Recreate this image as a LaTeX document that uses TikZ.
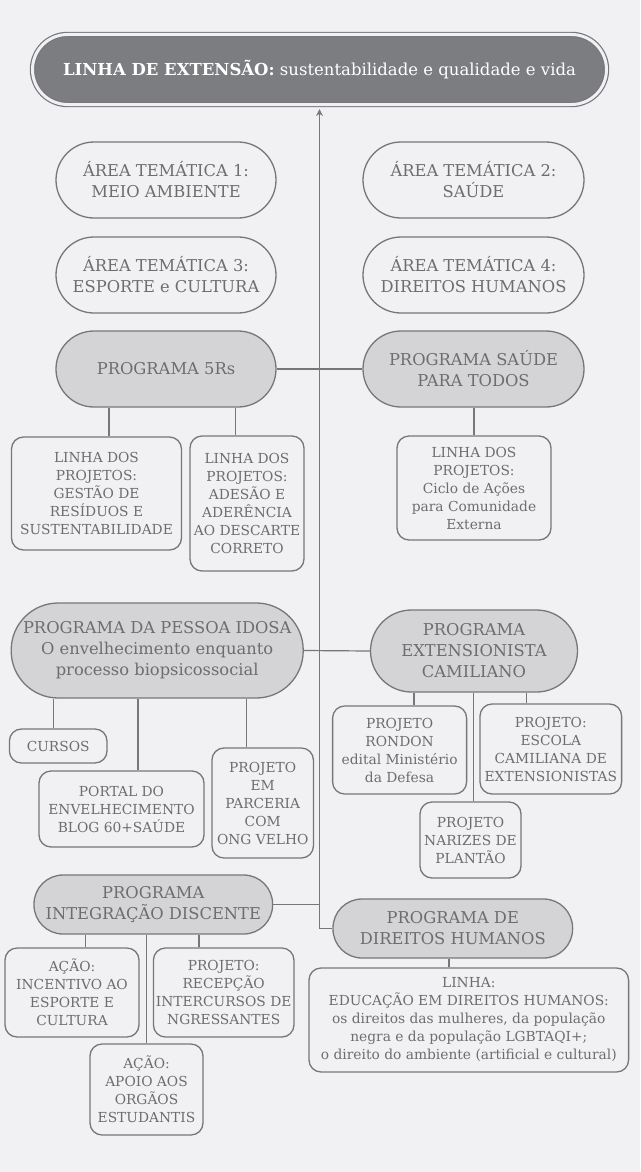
\documentclass[tikz,border=0pt]{standalone}
\usepackage{fontspec}
\setmainfont{DejaVu Serif}
\usetikzlibrary{arrows.meta}
\definecolor{bgcol}{HTML}{F1F1F3}
\definecolor{linecol}{HTML}{77777B}
\definecolor{darkfill}{HTML}{7C7D81}
\definecolor{progfill}{HTML}{D4D4D6}
\definecolor{txtcol}{HTML}{6D6D70}

\begin{document}
\begin{tikzpicture}[x=1pt,y=-1pt,
    box/.style={draw=linecol, line width=1.3pt, text=txtcol, align=center, inner sep=0pt},
    area/.style={box, rounded corners=38pt, minimum width=220pt, minimum height=76pt, font=\fontsize{16.3}{21}\selectfont},
    prog/.style={area, fill=progfill},
    leaf/.style={box, rounded corners=12pt, font=\fontsize{13.8}{18}\selectfont},
    conn/.style={draw=linecol, line width=1.2pt},
    headline/.style={draw=linecol, double=bgcol, double distance=3pt, line width=1.2pt, fill=darkfill, text=white,
      rounded corners=35pt, minimum width=574pt, minimum height=70pt, inner sep=0pt, font=\fontsize{16.5}{20}\selectfont}]
    \fill[bgcol] (0,0) rectangle (640,1172);

    \node[headline] (title) at (319.5,69.5) {\textbf{LINHA DE EXTENSÃO:} sustentabilidade e qualidade e vida};

    % areas
    \node[area] (a1) at (166,180) {ÁREA TEMÁTICA 1:\\MEIO AMBIENTE};
    \node[area, minimum width=221pt] (a2) at (473.5,180) {ÁREA TEMÁTICA 2:\\SAÚDE};
    \node[area] (a3) at (166,275) {ÁREA TEMÁTICA 3:\\ESPORTE e CULTURA};
    \node[area, minimum width=221pt] (a4) at (473.5,275) {ÁREA TEMÁTICA 4:\\DIREITOS HUMANOS};

    % programas
    \node[prog] (p5r) at (166,369) {PROGRAMA 5Rs};
    \node[prog, minimum width=221pt] (psaude) at (473.5,369) {PROGRAMA SAÚDE\\PARA TODOS};
    \node[prog, minimum width=292pt, minimum height=95pt, rounded corners=47pt] (pidosa) at (157.2,650.5)
      {PROGRAMA DA PESSOA IDOSA\\O envelhecimento enquanto\\processo biopsicossocial};
    \node[prog, minimum width=207pt, minimum height=82pt, rounded corners=41pt] (pcam) at (474,651)
      {PROGRAMA\\EXTENSIONISTA\\CAMILIANO};
    \node[prog, minimum width=238.6pt, minimum height=59pt, rounded corners=29pt] (pint) at (153.3,904.5)
      {PROGRAMA\\INTEGRAÇÃO DISCENTE};
    \node[prog, minimum width=239.6pt, minimum height=59pt, rounded corners=29pt] (dh) at (452.8,928.5)
      {PROGRAMA DE\\DIREITOS HUMANOS};

    % linhas e projetos
    \node[leaf, minimum width=170pt, minimum height=113pt] (l1) at (96.5,493.5)
      {LINHA DOS\\PROJETOS:\\GESTÃO DE\\RESÍDUOS E\\SUSTENTABILIDADE};
    \node[leaf, minimum width=114pt, minimum height=135pt] (l2) at (247,503.5)
      {LINHA DOS\\PROJETOS:\\ADESÃO E\\ADERÊNCIA\\AO DESCARTE\\CORRETO};
    \node[leaf, minimum width=154pt, minimum height=104pt] (l3) at (474,488)
      {LINHA DOS\\PROJETOS:\\Ciclo de Ações\\para Comunidade\\Externa};
    \node[leaf, minimum width=97.6pt, minimum height=34pt] (cursos) at (58.2,746) {CURSOS};
    \node[leaf, minimum width=165pt, minimum height=76pt] (portal) at (121.5,809)
      {PORTAL DO\\ENVELHECIMENTO\\BLOG 60+SAÚDE};
    \node[leaf, minimum width=101.5pt, minimum height=110pt] (parceria) at (262.7,803)
      {PROJETO\\EM\\PARCERIA\\COM\\ONG VELHO};
    \node[leaf, minimum width=134pt, minimum height=88pt] (rondon) at (399.6,750)
      {PROJETO\\RONDON\\edital Ministério\\da Defesa};
    \node[leaf, minimum width=141.6pt, minimum height=90pt] (escola) at (550.8,749)
      {PROJETO:\\ESCOLA\\CAMILIANA DE\\EXTENSIONISTAS};
    \node[leaf, minimum width=101pt, minimum height=76pt] (narizes) at (470.5,840)
      {PROJETO\\NARIZES DE\\PLANTÃO};
    \node[leaf, minimum width=134pt, minimum height=89pt] (incentivo) at (72,992.5)
      {AÇÃO:\\INCENTIVO AO\\ESPORTE E\\CULTURA};
    \node[leaf, minimum width=140.5pt, minimum height=89pt] (recepcao) at (223.7,992.5)
      {PROJETO:\\RECEPÇÃO\\INTERCURSOS DE\\NGRESSANTES};
    \node[leaf, minimum width=113pt, minimum height=91pt] (apoio) at (146.5,1089.5)
      {AÇÃO:\\APOIO AOS\\ORGÃOS\\ESTUDANTIS};
    \node[leaf, minimum width=319.6pt, minimum height=104pt] (linhaedu) at (468.8,1020)
      {LINHA:\\EDUCAÇÃO EM DIREITOS HUMANOS:\\os direitos das mulheres, da população\\negra e da população LGBTAQI+;\\o direito do ambiente (artificial e cultural)};

    % eixo central
    \draw[conn, -{Stealth[length=7pt,width=7pt]}, shorten >=4pt] (dh.west) -| (title.south);
    \draw[conn] (p5r.east) -- (psaude.west);
    \draw[conn] (pidosa.east) -- (pcam.west);
    \draw[conn] (pint.east) -- (pint.east -| title.south);

    % ligacoes
    \draw[conn] ([xshift=12.5pt]l1.north) -- ([xshift=12.5pt]l1.north |- p5r.south);
    \draw[conn] ([xshift=-11.5pt]l2.north) -- ([xshift=-11.5pt]l2.north |- p5r.south);
    \draw[conn] (l3.north) -- (l3.north |- psaude.south);
    \draw[conn] ([xshift=-5pt]cursos.north) -- ([xshift=-5pt]cursos.north |- pidosa.south);
    \draw[conn] ([xshift=16.5pt]portal.north) -- ([xshift=16.5pt]portal.north |- pidosa.south);
    \draw[conn] ([xshift=-16pt]parceria.north) -- ([xshift=-16pt]parceria.north |- pidosa.south);
    \draw[conn] ([xshift=14.4pt]rondon.north) -- ([xshift=14.4pt]rondon.north |- pcam.south);
    \draw[conn] ([xshift=-24.3pt]escola.north) -- ([xshift=-24.3pt]escola.north |- pcam.south);
    \draw[conn] ([xshift=3pt]narizes.north) -- ([xshift=3pt]narizes.north |- pcam.south);
    \draw[conn] ([xshift=13.7pt]incentivo.north) -- ([xshift=13.7pt]incentivo.north |- pint.south);
    \draw[conn] ([xshift=-24.7pt]recepcao.north) -- ([xshift=-24.7pt]recepcao.north |- pint.south);
    \draw[conn] (apoio.north) -- (apoio.north |- pint.south);
    \draw[conn] ([xshift=-19.8pt]linhaedu.north) -- ([xshift=-19.8pt]linhaedu.north |- dh.south);
\end{tikzpicture}
\end{document}
